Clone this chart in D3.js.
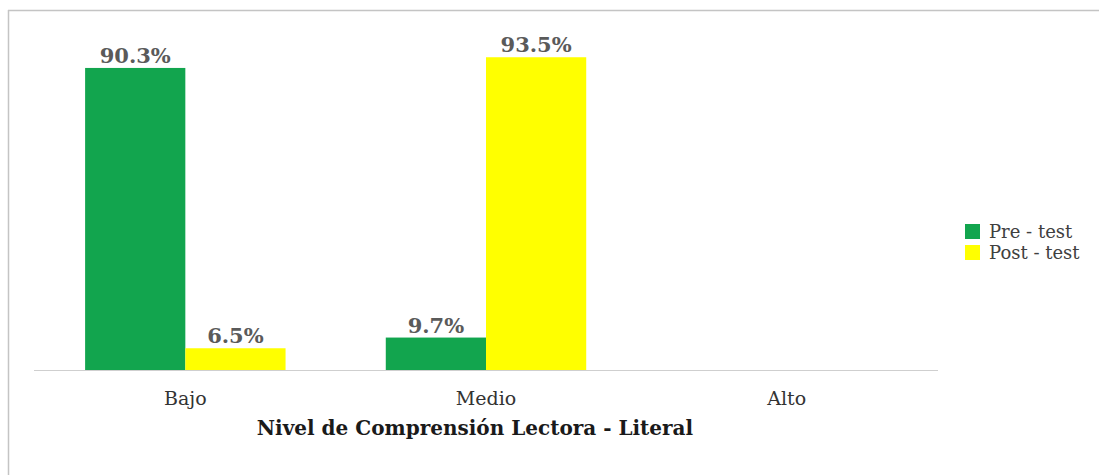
<!DOCTYPE html>
<html>
<head>
<meta charset="utf-8">
<script src="https://cdn.jsdelivr.net/npm/d3@7/dist/d3.min.js"></script>
<style>
  html, body { margin: 0; padding: 0; background: #fff; }
  svg { display: block; }
  text { font-family: "DejaVu Serif", "Liberation Serif", serif; }
</style>
</head>
<body>
<svg id="chart" width="1099" height="475"></svg>
<script>
// Reading comprehension level (literal) — pre-test vs post-test
const categories = ["Bajo", "Medio", "Alto"];
const seriesNames = ["Pre - test", "Post - test"];
const preTest = [90.3, 9.7, null];
const postTest = [6.5, 93.5, null];
const seriesColors = ["#12A54E", "#FFFF00"];
const axisTitle = "Nivel de Comprensión Lectora - Literal";

const svg = d3.select("#chart");
const W = 1099, H = 475;

// frame lines (left and top)
svg.append("line").attr("x1", 8.5).attr("x2", 8.5).attr("y1", 10).attr("y2", H)
  .attr("stroke", "#c4c4c4").attr("stroke-width", 1.5);
svg.append("line").attr("x1", 8).attr("x2", W).attr("y1", 10.5).attr("y2", 10.5)
  .attr("stroke", "#c4c4c4").attr("stroke-width", 1.5);

const baseY = 370;
const x0 = d3.scaleBand().domain(categories).range([35, 937]).paddingInner(0).paddingOuter(0);
const x1 = d3.scaleBand().domain(seriesNames).range([0, x0.bandwidth()])
  .paddingInner(0).paddingOuter(0.5);
const y = d3.scaleLinear().domain([0, 100]).range([baseY, 35.5]);

const rows = categories.map((c, i) => ({
  cat: c,
  vals: [preTest[i], postTest[i]]
}));

const groups = svg.append("g").selectAll("g").data(rows).join("g")
  .attr("transform", d => `translate(${x0(d.cat)},0)`);

groups.selectAll("rect")
  .data(d => d.vals.map((v, j) => ({ v, s: seriesNames[j], j })).filter(e => e.v != null))
  .join("rect")
  .attr("x", e => x1(e.s))
  .attr("width", x1.bandwidth())
  .attr("y", e => y(e.v))
  .attr("height", e => baseY - y(e.v))
  .attr("fill", e => seriesColors[e.j]);

groups.selectAll("text.val")
  .data(d => d.vals.map((v, j) => ({ v, s: seriesNames[j], j })).filter(e => e.v != null))
  .join("text")
  .attr("class", "val")
  .attr("x", e => x1(e.s) + x1.bandwidth() / 2)
  .attr("y", e => y(e.v) - 5)
  .attr("text-anchor", "middle")
  .attr("font-size", 21)
  .attr("font-weight", "bold")
  .attr("fill", "#5a5a5a")
  .text(e => e.v.toFixed(1) + "%");

// category axis
const xAxis = d3.axisBottom(x0).tickSize(0).tickPadding(22);
const ax = svg.append("g").attr("transform", `translate(0,${baseY})`).call(xAxis);
ax.select(".domain").attr("stroke", "#cfcfcf").attr("stroke-width", 1.2)
  .attr("d", `M34,0.5H938`);
ax.selectAll(".tick text")
  .attr("font-family", "DejaVu Serif")
  .attr("font-size", 19)
  .attr("fill", "#333");

// axis title
svg.append("text")
  .attr("x", 475).attr("y", 435)
  .attr("text-anchor", "middle")
  .attr("font-size", 20)
  .attr("font-weight", "bold")
  .attr("fill", "#1a1a1a")
  .text(axisTitle);

// legend
const legend = svg.append("g").attr("transform", "translate(965,224)");
const li = legend.selectAll("g").data(seriesNames).join("g")
  .attr("transform", (d, i) => `translate(0,${i * 21})`);
li.append("rect").attr("width", 15).attr("height", 15)
  .attr("fill", (d, i) => seriesColors[i]);
li.append("text").attr("x", 24).attr("y", 14)
  .attr("font-size", 18).attr("fill", "#404040").text(d => d);
</script>
</body>
</html>
